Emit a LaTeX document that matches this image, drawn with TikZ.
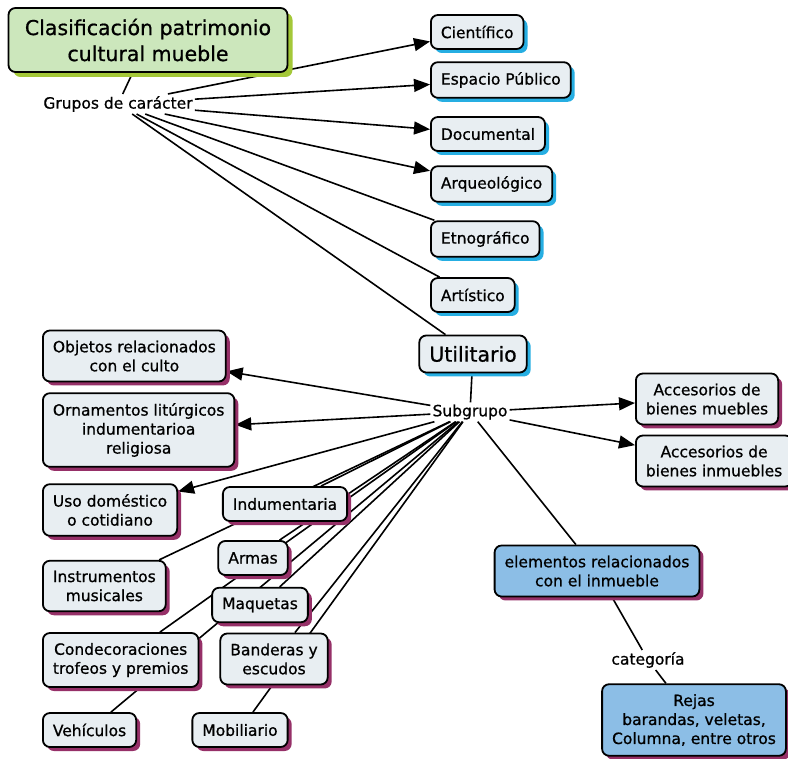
\documentclass[tikz,border=0pt]{standalone}
\definecolor{boxfill}{RGB}{232, 238, 242}
\definecolor{titlefill}{RGB}{204, 231, 188}
\definecolor{titleshadow}{RGB}{164, 200, 56}
\definecolor{cyanshadow}{RGB}{38, 174, 226}
\definecolor{plumshadow}{RGB}{150, 48, 104}
\definecolor{elemfill}{RGB}{140, 190, 230}
\usepackage{fontspec}
\setmainfont{DejaVu Sans}[RawFeature={embolden=0.8}]
\usepackage{tikz}
\usetikzlibrary{shadows, arrows.meta, positioning}
\pgfdeclarelayer{background}
\pgfsetlayers{background,main}
\newcommand{\mapfont}{\fontsize{15.5}{19}\selectfont}
\newcommand{\bigmapfont}{\fontsize{20.5}{26}\selectfont}

\begin{document}
\begin{tikzpicture}[x=1pt, y=-1pt,
  concept/.style={draw, line width=1.8pt, rounded corners=7pt, fill=boxfill, align=center, font=\mapfont, inner xsep=10pt, inner ysep=10pt, minimum height=34pt},
  cyandrop/.style={drop shadow={shadow xshift=4pt, shadow yshift=-4pt, fill=cyanshadow, opacity=1}},
  plumdrop/.style={drop shadow={shadow xshift=4pt, shadow yshift=-4pt, fill=plumshadow, opacity=1}},
  linkword/.style={font=\mapfont, inner sep=2pt},
  link/.style={line width=1.6pt},
  linkarrow/.style={link, -{Triangle[length=16pt, width=13pt]}}]
  \useasboundingbox (0,0) rectangle (788,759);

  % Title and character groups
  \node[concept, fill=titlefill, font=\bigmapfont, drop shadow={shadow xshift=5pt, shadow yshift=-5pt, fill=titleshadow, opacity=1}, minimum width=279pt, minimum height=64pt] (title) at (148,40) {Clasificación patrimonio\\cultural mueble};
  \node[linkword] (grupos) at (118,104) {Grupos de carácter};

  \node[concept, cyandrop, anchor=west] (cientifico) at (430,32) {Científico};
  \node[concept, cyandrop, anchor=west] (espacio) at (430,80) {Espacio Público};
  \node[concept, cyandrop, anchor=west] (documental) at (430,134) {Documental};
  \node[concept, cyandrop, anchor=west] (arqueologico) at (430,184) {Arqueológico};
  \node[concept, cyandrop, anchor=west] (etnografico) at (430,239) {Etnográfico};
  \node[concept, cyandrop, anchor=west] (artistico) at (430,295) {Artístico};

  % Utilitario and its subgroups
  \node[concept, cyandrop, font=\bigmapfont, minimum height=37pt] (utilitario) at (473,354) {Utilitario};
  \node[linkword] (subgrupo) at (470,412) {Subgrupo};

  \node[concept, plumdrop, anchor=west] (accmuebles) at (635,399) {Accesorios de\\bienes muebles};
  \node[concept, plumdrop, anchor=west] (accinmuebles) at (635,461) {Accesorios de\\bienes inmuebles};

  \node[concept, plumdrop, anchor=west] (objetos) at (42,356) {Objetos relacionados\\con el culto};
  \node[concept, plumdrop, anchor=west] (ornamentos) at (42,430) {Ornamentos litúrgicos\\indumentarioa\\religiosa};
  \node[concept, plumdrop, anchor=west] (domestico) at (42,510) {Uso doméstico\\o cotidiano};
  \node[concept, plumdrop, anchor=west] (instrumentos) at (42,586) {Instrumentos\\musicales};
  \node[concept, plumdrop, anchor=west] (condecoraciones) at (42,660) {Condecoraciones\\trofeos y premios};
  \node[concept, plumdrop, anchor=west] (vehiculos) at (42,730) {Vehículos};

  \node[concept, plumdrop] (indumentaria) at (285,504) {Indumentaria};
  \node[concept, plumdrop] (armas) at (253,558) {Armas};
  \node[concept, plumdrop] (maquetas) at (260,605) {Maquetas};
  \node[concept, plumdrop] (banderas) at (274,659) {Banderas y\\escudos};
  \node[concept, plumdrop] (mobiliario) at (240,730) {Mobiliario};

  % Elements of the building
  \node[concept, plumdrop, fill=elemfill] (elementos) at (597,571) {elementos relacionados\\con el inmueble};
  \node[linkword] (categoria) at (648,660) {categoría};
  \node[concept, plumdrop, fill=elemfill] (rejas) at (694,720) {Rejas\\barandas, veletas,\\Columna, entre otros};

  % Connectors (behind the boxes)
  \begin{pgfonlayer}{background}
    \fill[white] (0,0) rectangle (788,759);
    \draw[link] (title) -- (grupos);
    \draw[linkarrow] (grupos) -- (cientifico);
    \draw[linkarrow] (grupos) -- (espacio);
    \draw[linkarrow] (grupos) -- (documental);
    \draw[linkarrow] (grupos) -- (arqueologico);
    \draw[link] (grupos) -- (etnografico);
    \draw[link] (grupos) -- (artistico);
    \draw[link] (grupos) -- (utilitario);
    \draw[link] (utilitario) -- (subgrupo);
    \draw[linkarrow] (subgrupo) -- (accmuebles);
    \draw[linkarrow] (subgrupo) -- (accinmuebles);
    \draw[linkarrow] (subgrupo) -- (objetos);
    \draw[linkarrow] (subgrupo) -- (ornamentos);
    \draw[linkarrow] (subgrupo) -- (domestico);
    \draw[link] (subgrupo) -- (instrumentos);
    \draw[link] (subgrupo) -- (condecoraciones);
    \draw[link] (subgrupo) -- (vehiculos);
    \draw[link] (subgrupo) -- (indumentaria);
    \draw[link] (subgrupo) -- (armas);
    \draw[link] (subgrupo) -- (maquetas);
    \draw[link] (subgrupo) -- (banderas);
    \draw[link] (subgrupo) -- (mobiliario);
    \draw[link] (subgrupo) -- (elementos);
    \draw[link] (elementos) -- (categoria);
    \draw[link] (categoria) -- (rejas);
  \end{pgfonlayer}
\end{tikzpicture}
\end{document}
